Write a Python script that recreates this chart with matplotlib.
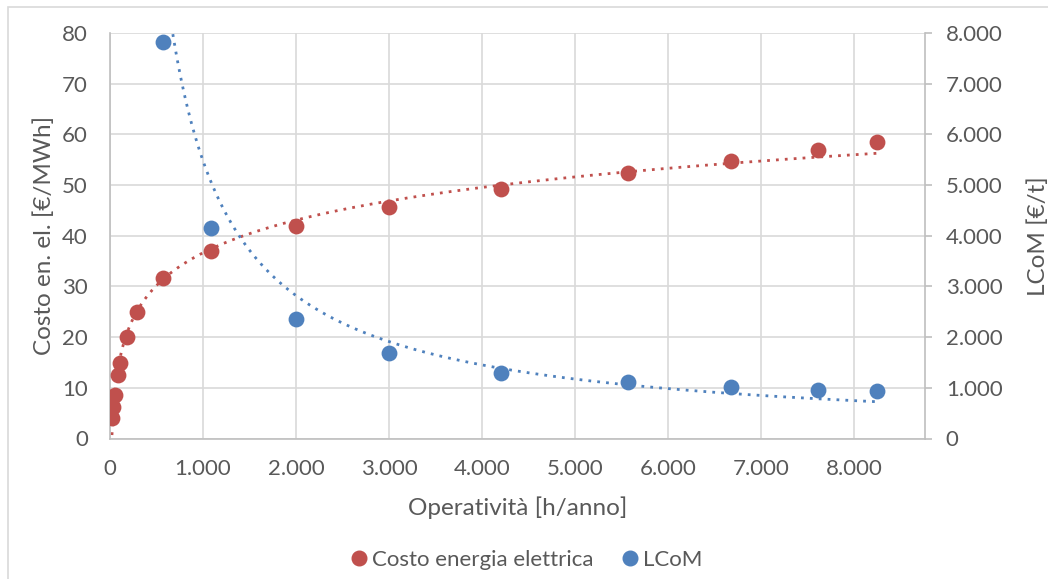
import matplotlib
matplotlib.use('Agg')
import matplotlib.pyplot as plt
import matplotlib.ticker as mticker
from matplotlib.patches import Rectangle
from matplotlib.lines import Line2D
import numpy as np

plt.rcParams['font.family'] = ['Lato', 'DejaVu Sans']

# data
ore_costo = [21, 36, 54, 90, 107, 179, 287, 566, 1086, 2002, 3000, 4200, 5570, 6675, 7613, 8240]
costo_el = [4.0, 6.2, 8.6, 12.5, 14.9, 20.0, 24.9, 31.6, 37.0, 41.9, 45.7, 49.2, 52.4, 54.8, 56.9, 58.4]
ore_lcom = [566, 1086, 2002, 3000, 4200, 5570, 6675, 7613, 8240]
lcom = [7814, 4152, 2351, 1686, 1292, 1108, 1010, 963, 937]

# power trendline of LCoM, two points
trend_lcom_x = [1086, 8240]
trend_lcom_y = [5060, 726]

red = '#c0504d'
blue = '#4f81bd'
grey_txt = '#595959'
grid_c = '#d9d9d9'

fig = plt.figure(figsize=(10.48, 5.79), dpi=100)
fig.patch.set_facecolor('white')
# chart-area border
fig.patches.append(Rectangle((8 / 1048, -0.05), 1.1, 1 - 7 / 579 + 0.05, transform=fig.transFigure,
                             fill=False, edgecolor='#d9d9d9', linewidth=1.2))

ax = fig.add_axes([110 / 1048, 1 - 438.5 / 579, 815 / 1048, 405.5 / 579])
ax2 = ax.twinx()

# logarithmic trendline of the electricity cost
xr = np.array(ore_costo, dtype=float)
a, b = np.polyfit(np.log(xr), costo_el, 1)
xt = np.linspace(xr.min(), xr.max(), 400)
ax.plot(xt, a * np.log(xt) + b, color=red, linestyle=(0, (1, 2.2)), linewidth=2, zorder=2)

# power trendline of LCoM
p = np.log(trend_lcom_y[1] / trend_lcom_y[0]) / np.log(trend_lcom_x[1] / trend_lcom_x[0])
A = trend_lcom_y[0] / trend_lcom_x[0] ** p
xt2 = np.linspace(min(ore_lcom), max(ore_lcom), 400)
ax2.plot(xt2, A * xt2 ** p, color=blue, linestyle=(0, (1, 2.2)), linewidth=2, zorder=2)

ax.scatter(ore_costo, costo_el, s=130, color=red, zorder=3, linewidths=0)
ax2.scatter(ore_lcom, lcom, s=130, color=blue, zorder=3, linewidths=0)

ax.set_xlim(0, 8760)
ax.set_ylim(0, 80)
ax2.set_ylim(0, 8000)
ax.set_xticks(np.arange(0, 9000, 1000))
ax.set_yticks(np.arange(0, 81, 10))
ax2.set_yticks(np.arange(0, 8001, 1000))

fmt = mticker.FuncFormatter(lambda v, pos: f'{int(v):,}'.replace(',', '.'))
ax.xaxis.set_major_formatter(fmt)
ax2.yaxis.set_major_formatter(fmt)

ax.grid(True, color=grid_c, linewidth=1.2)
ax.set_axisbelow(True)
for a_ in (ax, ax2):
    for s in a_.spines.values():
        s.set_visible(False)
ax.spines['left'].set_visible(True)
ax.spines['bottom'].set_visible(True)
ax2.spines['right'].set_visible(True)
for s in (ax.spines['left'], ax.spines['bottom'], ax2.spines['right']):
    s.set_color('#bfbfbf')
    s.set_linewidth(1.2)

ax.tick_params(axis='x', length=0, labelsize=16, labelcolor=grey_txt, pad=15)
ax.tick_params(axis='y', length=0, labelsize=16, labelcolor=grey_txt, pad=16)
ax2.tick_params(axis='y', length=5, color='#bfbfbf', width=1.2, labelsize=16, labelcolor=grey_txt, pad=10)

ax.set_xlabel('Operatività [h/anno]', fontsize=17.5, color=grey_txt, labelpad=12)
ax.set_ylabel('Costo en. el. [€/MWh]', fontsize=17.5, color=grey_txt, labelpad=5)
ax2.set_ylabel('LCoM [€/t]', fontsize=17.5, color=grey_txt, labelpad=18)

handles = [Line2D([], [], marker='o', linestyle='', color=red, markersize=10.5),
           Line2D([], [], marker='o', linestyle='', color=blue, markersize=10.5)]
fig.legend(handles, ['Costo energia elettrica', 'LCoM'], loc='center', bbox_to_anchor=(0.5, 1 - 560 / 579),
           ncol=2, frameon=False, fontsize=16, labelcolor=grey_txt, handletextpad=0.0,
           handlelength=1.2, columnspacing=1.0)

fig.savefig('out.png', dpi=100, facecolor='white')
